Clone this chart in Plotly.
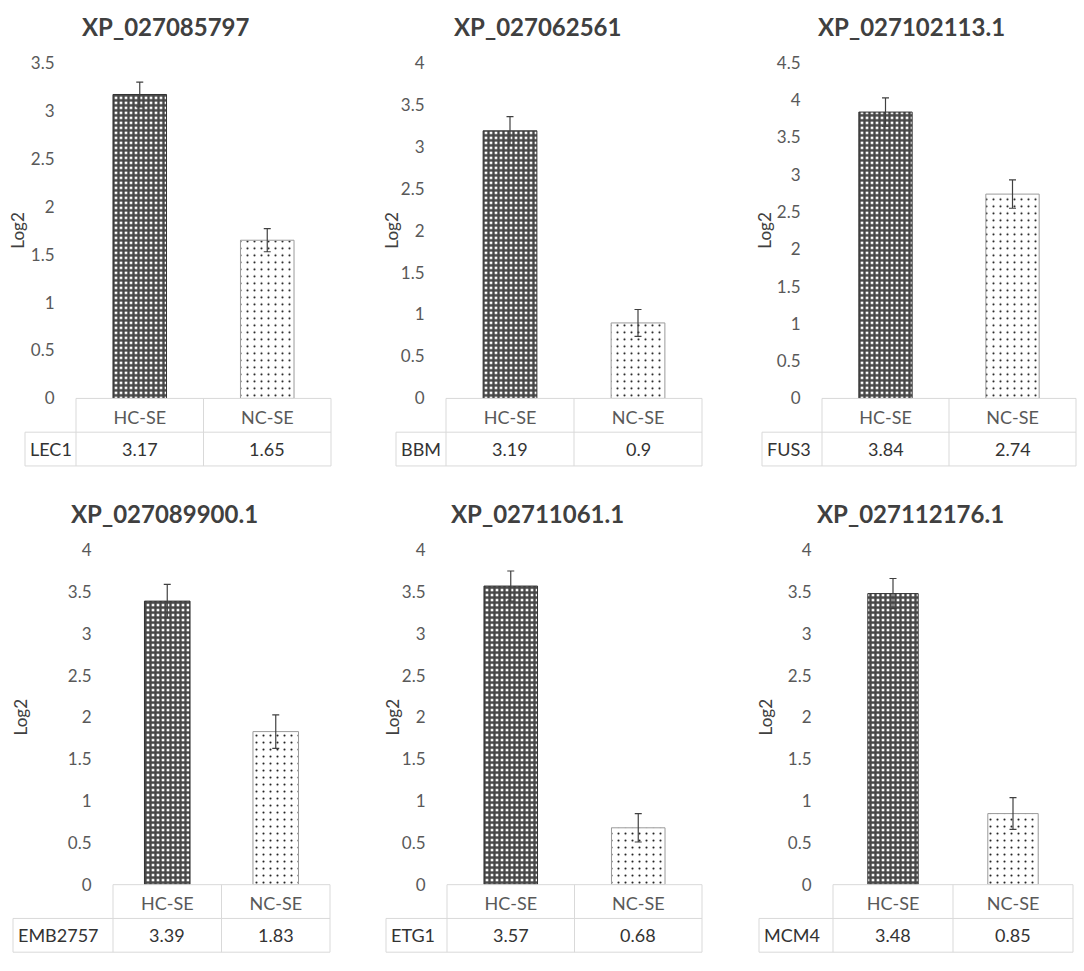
import plotly.graph_objects as go

# ---------------- data ----------------
titles = ["XP_027085797", "XP_027062561", "XP_027102113.1",
          "XP_027089900.1", "XP_02711061.1", "XP_027112176.1"]
genes = ["LEC1", "BBM", "FUS3", "EMB2757", "ETG1", "MCM4"]
categories = ["HC-SE", "NC-SE"]
hc_values = [3.17, 3.19, 3.84, 3.39, 3.57, 3.48]
nc_values = [1.65, 0.90, 2.74, 1.83, 0.68, 0.85]
hc_err = [0.13, 0.17, 0.19, 0.20, 0.18, 0.18]
nc_err = [0.12, 0.16, 0.19, 0.20, 0.17, 0.19]
y_max = [3.5, 4, 4.5, 4, 4, 4]
value_labels_hc = ["3.17", "3.19", "3.84", "3.39", "3.57", "3.48"]
value_labels_nc = ["1.65", "0.9", "2.74", "1.83", "0.68", "0.85"]

# ---------------- layout constants (pixels) ----------------
W, H = 1084, 971
x_dom_px = [(76, 331), (446, 702), (822, 1076), (113, 330), (447, 702), (833, 1073)]
y_dom_px = [(53, 396)] * 3 + [(551, 893)] * 3
gene_left_px = [25, 396, 762, 13, 386, 759]
ytitle_px = [18, 392, 765, 20, 392, 765]
title_pos_px = [(166, 16), (537, 16), (911, 16), (164, 514), (537, 514), (910, 514)]
row_px = 34.5

FONT = "Lato"
TXT = "#595959"
DARK = "#404040"
GRID = "#d9d9d9"

fig = go.Figure()

for i in range(6):
    n = i + 1
    s = "" if n == 1 else str(n)
    x0, x1 = x_dom_px[i]
    yt, yb = y_dom_px[i]
    wpx = x1 - x0
    hpx = yb - yt

    fig.add_trace(go.Bar(
        x=[categories[0]], y=[hc_values[i]],
        xaxis="x" + s, yaxis="y" + s,
        marker=dict(color="#474747",
                    line=dict(color="#333333", width=1),
                    pattern=dict(shape="+", bgcolor="#ffffff", fgcolor="#474747",
                                 size=5, solidity=0.72, fillmode="replace")),
        error_y=dict(type="data", array=[hc_err[i]], color=DARK, thickness=1.2, width=3.5),
        showlegend=False, hoverinfo="skip",
    ))
    fig.add_trace(go.Bar(
        x=[categories[1]], y=[nc_values[i]],
        xaxis="x" + s, yaxis="y" + s,
        marker=dict(color="#ffffff",
                    line=dict(color="#9a9a9a", width=1),
                    pattern=dict(shape=".", bgcolor="#ffffff", fgcolor="#1a1a1a",
                                 size=7, solidity=0.07, fillmode="replace")),
        error_y=dict(type="data", array=[nc_err[i]], color=DARK, thickness=1.2, width=3.5),
        showlegend=False, hoverinfo="skip",
    ))

    fig.update_layout(**{
        "xaxis" + s: dict(
            domain=[x0 / W, x1 / W], anchor="y" + s,
            categoryorder="array", categoryarray=categories,
            showgrid=False, zeroline=False, showline=False,
            ticks="outside", ticklen=3, tickcolor="rgba(0,0,0,0)",
            tickfont=dict(family=FONT, size=18, color=TXT),
        ),
        "yaxis" + s: dict(
            domain=[1 - yb / H, 1 - yt / H], anchor="x" + s,
            range=[0, y_max[i]], dtick=0.5,
            showgrid=False, zeroline=False, showline=False,
            ticks="outside", ticklen=17, tickcolor="rgba(0,0,0,0)",
            tickfont=dict(family=FONT, size=17, color=TXT),
        ),
    })

    xr = "x" + s + " domain"
    yr = "y" + s + " domain"
    r = row_px / hpx
    L = (gene_left_px[i] - x0) / wpx
    line = dict(color=GRID, width=1)
    # horizontal lines
    fig.add_shape(type="line", xref=xr, yref=yr, x0=0, x1=1, y0=0, y1=0, line=line)
    fig.add_shape(type="line", xref=xr, yref=yr, x0=L, x1=1, y0=-r, y1=-r, line=line)
    fig.add_shape(type="line", xref=xr, yref=yr, x0=L, x1=1, y0=-2 * r, y1=-2 * r, line=line)
    # vertical lines
    fig.add_shape(type="line", xref=xr, yref=yr, x0=L, x1=L, y0=-r, y1=-2 * r, line=line)
    for xv in (0, 0.5, 1):
        fig.add_shape(type="line", xref=xr, yref=yr, x0=xv, x1=xv, y0=0, y1=-2 * r, line=line)

    # gene name
    fig.add_annotation(xref=xr, yref=yr, x=L, y=-1.5 * r, xanchor="left", yanchor="middle",
                       xshift=3, text=genes[i], showarrow=False,
                       font=dict(family=FONT, size=18, color="#333333"))
    # values
    for cat, lab in zip(categories, [value_labels_hc[i], value_labels_nc[i]]):
        fig.add_annotation(xref="x" + s, yref=yr, x=cat, y=-1.5 * r, xanchor="center",
                           yanchor="middle", text=lab, showarrow=False,
                           font=dict(family=FONT, size=18, color="#333333"))
    # y title
    fig.add_annotation(xref=xr, yref=yr, x=(ytitle_px[i] - x0) / wpx, y=0.5,
                       xanchor="center", yanchor="middle", text="Log2", textangle=-90,
                       showarrow=False, font=dict(family=FONT, size=17, color="#404040"))
    # panel title
    tx, ty = title_pos_px[i]
    fig.add_annotation(xref="paper", yref="paper", x=tx / W, y=1 - ty / H,
                       xanchor="center", yanchor="middle", text="<b>" + titles[i] + "</b>",
                       showarrow=False, font=dict(family=FONT, size=24, color="#404040"))

fig.update_layout(
    width=W, height=H,
    margin=dict(l=0, r=0, t=0, b=0),
    paper_bgcolor="white", plot_bgcolor="white",
    barmode="overlay", bargap=0.58,
    showlegend=False,
)

fig.write_html("out.html",
               config={"displayModeBar": False},
               post_script="document.body.style.margin='0';document.body.style.overflow='hidden';")
